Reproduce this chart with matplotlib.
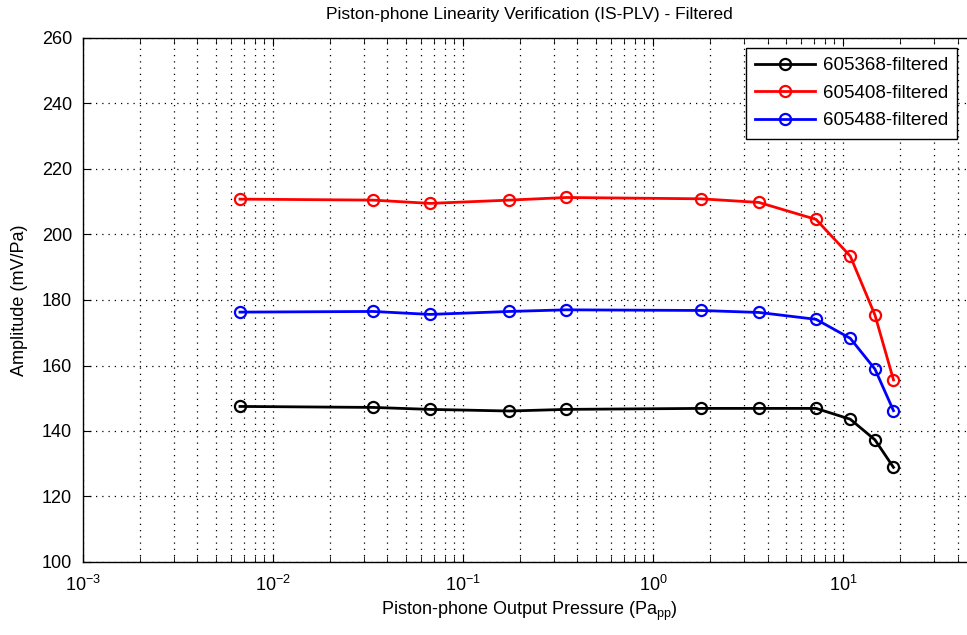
import matplotlib.pyplot as plt
import numpy as np

# pressure (Pa_pp) and amplitude (mV/Pa)
pressure = [0.0067, 0.0336, 0.067, 0.175, 0.35, 1.78, 3.6, 7.2, 10.9, 14.7, 18.4]
amp_605368 = [147.5, 147.2, 146.6, 146.1, 146.6, 146.9, 146.9, 146.9, 143.6, 137.3, 128.9]
amp_605408 = [210.8, 210.5, 209.5, 210.5, 211.3, 210.9, 209.8, 204.6, 193.4, 175.4, 155.6]
amp_605488 = [176.3, 176.5, 175.6, 176.5, 177.0, 176.8, 176.2, 174.1, 168.3, 158.9, 146.2]

series = [
    ("605368-filtered", amp_605368, "black"),
    ("605408-filtered", amp_605408, "red"),
    ("605488-filtered", amp_605488, "blue"),
]

fam = "Liberation Sans"
plt.rcParams['font.family'] = [fam, 'DejaVu Sans']
plt.rcParams['mathtext.fontset'] = 'custom'
plt.rcParams['mathtext.rm'] = fam
plt.rcParams['mathtext.it'] = fam

fig = plt.figure(figsize=(9.67, 6.35), dpi=100)
ax = fig.add_axes([83 / 967, 73 / 635, (976 - 83) / 967, (562 - 38) / 635])

for label, vals, col in series:
    ax.plot(pressure, vals, color=col, lw=2, marker='o', ms=8,
            mfc='none', mew=1.6, label=label)

ax.set_xscale('log')
ax.set_xlim(1e-3, 50)
ax.set_ylim(100, 260)
ax.set_yticks(np.arange(100, 261, 20))
ax.set_xticks([1e-3, 1e-2, 1e-1, 1e0, 1e1])

dots = (0, (1, 4))
ax.grid(True, which='major', ls=dots, color='black', lw=0.9)
ax.grid(True, which='minor', axis='x', ls=dots, color='black', lw=0.9)
ax.tick_params(which='both', direction='in', top=True, right=True, labelsize=13)
ax.tick_params(which='major', length=6)
ax.tick_params(which='minor', length=4)
ax.tick_params(axis='x', which='major', pad=9)
ax.tick_params(axis='y', which='major', pad=8)
for s in ax.spines.values():
    s.set_linewidth(1.0)

ax.set_title("Piston-phone Linearity Verification (IS-PLV) - Filtered", fontsize=12.5, pad=14)
ax.set_xlabel("Piston-phone Output Pressure (Pa$_{\\mathregular{pp}}$)", fontsize=13, labelpad=4)
ax.set_ylabel("Amplitude (mV/Pa)", fontsize=13, labelpad=10)

leg = ax.legend(loc='upper right', bbox_to_anchor=(0.979, 0.981), borderaxespad=0,
                fontsize=13.5, fancybox=False, framealpha=1, edgecolor='black',
                handlelength=3.2, handletextpad=0.4, borderpad=0.5, labelspacing=0.55)
leg.get_frame().set_linewidth(1.0)

fig.savefig("out.png", dpi=100)
